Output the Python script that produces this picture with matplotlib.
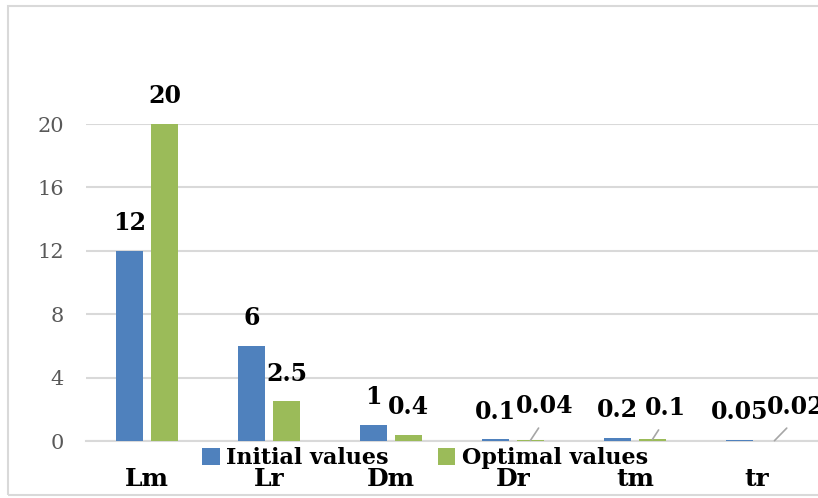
import matplotlib
matplotlib.use("Agg")
import matplotlib.pyplot as plt
from matplotlib.patches import Rectangle

categories = ["Lm", "Lr", "Dm", "Dr", "tm", "tr"]
initial_values = [12, 6, 1, 0.1, 0.2, 0.05]
optimal_values = [20, 2.5, 0.4, 0.04, 0.1, 0.02]
y_ticks = [0, 4, 8, 12, 16, 20]

BLUE = "#4f81bd"
GREEN = "#9bbb59"
GRID = "#d9d9d9"
FONT = "DejaVu Serif"

W, H = 818, 498
fig = plt.figure(figsize=(W / 100, H / 100), dpi=100)

# outer chart frame
fig.patches.append(Rectangle((8 / W, 3 / H), 1.2, (492 - 3) / H, transform=fig.transFigure,
                             fill=False, edgecolor=GRID, linewidth=1.5))

ax = fig.add_axes([86 / W, (H - 441) / H, 732 / W, (441 - 124) / H])
n = len(categories)
x = list(range(n))
bw = 0.22
off = 0.143
ax.bar([i - off for i in x], initial_values, bw, color=BLUE, label="Initial values", zorder=3)
ax.bar([i + off for i in x], optimal_values, bw, color=GREEN, label="Optimal values", zorder=3)

ax.set_xlim(-0.5, n - 0.5)
ax.set_ylim(0, 20)
ax.set_yticks(y_ticks)
ax.set_yticklabels([str(t) for t in y_ticks], fontfamily=FONT, fontsize=15, color="#595959")
ax.set_xticks(x)
ax.set_xticklabels(categories, fontfamily=FONT, fontsize=18, fontweight="bold")
ax.tick_params(axis="both", length=0)
ax.tick_params(axis="y", pad=16)
ax.tick_params(axis="x", pad=19)
ax.grid(axis="y", color=GRID, linewidth=1.5, zorder=0)
for s in ["top", "right", "left"]:
    ax.spines[s].set_visible(False)
ax.spines["bottom"].set_color(GRID)
ax.spines["bottom"].set_linewidth(1.5)

lab_kw = dict(fontfamily=FONT, fontsize=17, fontweight="bold", ha="center", va="center",
              annotation_clip=False)

def fmt(v):
    return f"{v:g}"

# initial-value labels above the blue bars
for i, v in enumerate(initial_values):
    ax.annotate(fmt(v), (i - off, v), xytext=(0, 20), textcoords="offset points", **lab_kw)

# optimal-value labels; the tiniest ones sit offset with a leader line
leader = {3: (10.5, 24.5), 4: (9, 22.5), 5: (15, 24)}
for i, v in enumerate(optimal_values):
    if i in leader:
        dx, dy = leader[i]
        ax.annotate(fmt(v), (i + off, v), xytext=(dx, dy), textcoords="offset points",
                    arrowprops=dict(arrowstyle="-", color="#a6a6a6", linewidth=1.2,
                                    relpos=(0.5, 0.0), shrinkA=6, shrinkB=0), **lab_kw)
    else:
        ax.annotate(fmt(v), (i + off, v), xytext=(0, 20), textcoords="offset points", **lab_kw)

ax.legend(loc="center", bbox_to_anchor=(425 / W, (H - 458) / H), bbox_transform=fig.transFigure,
          ncol=2, frameon=False, prop=dict(family=FONT, size=16, weight="bold"),
          handlelength=0.8, handleheight=0.8, handletextpad=0.3, columnspacing=2.2,
          borderpad=0, borderaxespad=0)

fig.savefig("out.png", dpi=100)
